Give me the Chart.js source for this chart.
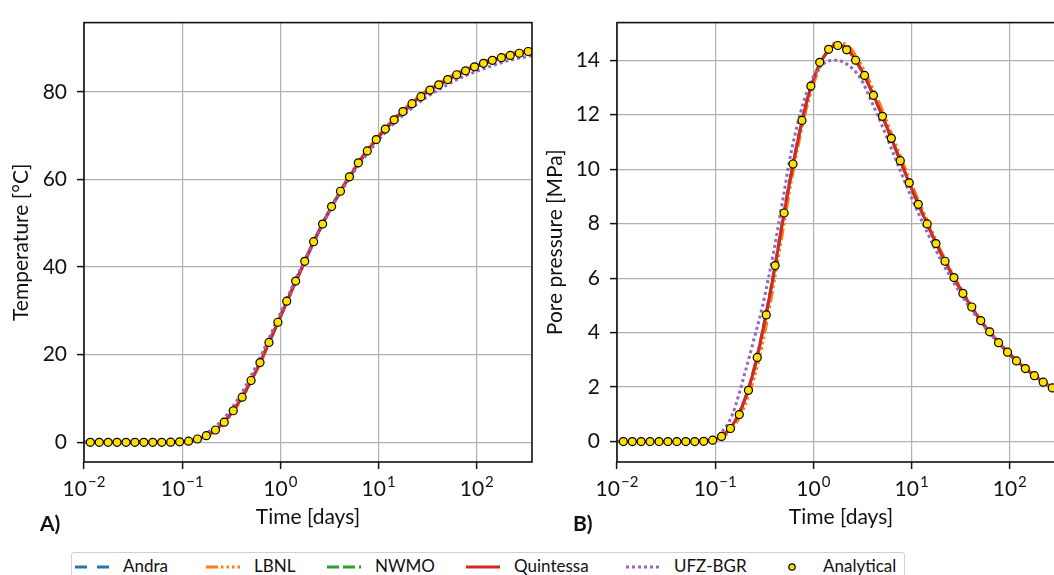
<!DOCTYPE html>
<html>
<head>
<meta charset="utf-8">
<title>Temperature and pore pressure</title>
<script src="https://cdn.jsdelivr.net/npm/chart.js@4.4.0/dist/chart.umd.min.js"></script>
<style>
    html, body { margin: 0; padding: 0; background: #fff; overflow: hidden; }
    body { position: relative; width: 1054px; height: 575px; font-family: Lato, sans-serif; color: #111; }
    canvas { position: absolute; top: 0; }
    #tempChart { left: 0; }
    #presChart { left: 540px; }
    #legend { position: absolute; left: 71px; top: 552px; width: 832px; height: 40px;
              border: 1px solid #d0d0d0; border-radius: 3px; }
    .lg-handle { position: absolute; top: 561px; }
    .lg-text { position: absolute; top: 557px; font-size: 17px; line-height: 17px; white-space: nowrap; }
</style>
</head>
<body>
<canvas id="tempChart" width="540" height="540"></canvas>
<canvas id="presChart" width="540" height="540"></canvas>
<div id="legend"></div>

<script>
// ---------------- data ----------------
const timeTicks = [0.01, 0.1, 1, 10, 100];
const tempTicks = [0, 20, 40, 60, 80];
const presTicks = [0, 2, 4, 6, 8, 10, 12, 14];

// analytical solution (days)
const analyticalTime = [0.0116, 0.0143, 0.0176, 0.0217, 0.0268, 0.0330, 0.0407, 0.0502, 0.0619, 0.0763,
    0.0941, 0.116, 0.143, 0.176, 0.218, 0.268, 0.331, 0.408, 0.503, 0.620,
    0.765, 0.943, 1.16, 1.43, 1.77, 2.18, 2.69, 3.32, 4.09, 5.05,
    6.22, 7.67, 9.46, 11.7, 14.4, 17.7, 21.9, 27.0, 33.3, 41.0,
    50.6, 62.4, 76.9, 94.9, 117, 144, 178, 219, 271, 334];
const analyticalTemp = [0, 0, 0, 0, 0, 0, 0, 0, 0, 0.02,
    0.1, 0.25, 0.75, 1.5, 2.8, 4.6, 7.2, 10.3, 14.1, 18.2,
    22.8, 27.4, 32.2, 36.8, 41.3, 45.8, 49.8, 53.8, 57.3, 60.6,
    63.8, 66.5, 69.1, 71.5, 73.6, 75.5, 77.3, 78.9, 80.4, 81.6,
    82.8, 83.9, 84.8, 85.7, 86.5, 87.2, 87.8, 88.3, 88.8, 89.2];
const analyticalPres = [0, 0, 0, 0, 0, 0, 0, 0, 0, 0.01,
    0.05, 0.19, 0.48, 0.99, 1.88, 3.09, 4.65, 6.46, 8.39, 10.19,
    11.79, 13.05, 13.92, 14.40, 14.54, 14.38, 14.00, 13.44, 12.71, 11.94,
    11.13, 10.31, 9.50, 8.71, 7.99, 7.27, 6.62, 6.02, 5.44, 4.94,
    4.44, 4.03, 3.63, 3.28, 2.96, 2.68, 2.42, 2.18, 1.97, 1.78];

// numerical results (days)
const modelTime = [0.01, 0.02, 0.05, 0.08, 0.1, 0.12, 0.15, 0.2, 0.25, 0.3, 0.4, 0.5, 0.6, 0.8, 1, 1.3, 1.7,
    2.2, 3, 4, 5, 7, 10, 15, 20, 30, 50, 70, 100, 150, 200, 300, 365];

const andraTemp = [0, 0, 0, 0.03, 0.12, 0.3, 0.8, 2.2, 3.9, 5.9, 9.9, 13.9, 17.4, 23.7, 28.6, 34.5, 40.3,
    45.8, 51.8, 56.8, 60.3, 65.2, 69.6, 73.9, 76.4, 79.6, 82.6, 84.3, 85.8, 87.2, 88.0, 88.9, 89.3];
const lbnlTemp = [0, 0, 0, 0.02, 0.1, 0.25, 0.75, 2.0, 3.7, 5.7, 9.7, 13.7, 17.2, 23.5, 28.5, 34.5, 40.4,
    46.0, 52.0, 57.1, 60.7, 65.6, 70.0, 74.4, 76.9, 80.1, 83.1, 84.8, 86.3, 87.7, 88.5, 89.4, 89.8];
const nwmoTemp = [0, 0, 0, 0.03, 0.13, 0.31, 0.86, 2.3, 4.0, 6.0, 10.1, 14.1, 17.6, 23.9, 28.8, 34.7, 40.5,
    46.0, 52.0, 57.0, 60.5, 65.4, 69.8, 74.1, 76.6, 79.8, 82.8, 84.5, 86.0, 87.4, 88.2, 89.1, 89.5];
const quintessaTemp = [0, 0, 0, 0.03, 0.13, 0.3, 0.85, 2.3, 4.0, 6.0, 10.0, 14.0, 17.5, 23.8, 28.7, 34.6, 40.4,
    45.9, 51.9, 56.9, 60.4, 65.3, 69.7, 74.0, 76.5, 79.7, 82.7, 84.4, 85.9, 87.3, 88.1, 89.0, 89.4];
const ufzTemp = [0, 0, 0, 0.05, 0.2, 0.45, 1.2, 2.9, 4.8, 6.9, 11.1, 15.1, 18.6, 24.7, 29.5, 35.2, 40.8,
    46.2, 51.9, 56.6, 60.1, 64.7, 69.0, 73.2, 75.6, 78.6, 81.6, 83.3, 84.7, 86.1, 87.0, 87.9, 88.3];

const andraPres = [0, 0, 0, 0.02, 0.08, 0.22, 0.56, 1.5, 2.64, 3.9, 6.25, 8.3, 9.88, 12.03, 13.28, 14.16, 14.55,
    14.42, 13.72, 12.8, 11.99, 10.68, 9.3, 7.86, 6.9, 5.72, 4.46, 3.8, 3.2, 2.63, 2.29, 1.87, 1.70];
const lbnlPres = [0, 0, 0, 0.01, 0.06, 0.18, 0.48, 1.3, 2.35, 3.5, 5.9, 7.95, 9.6, 11.85, 13.1, 14.15, 14.64,
    14.56, 13.9, 13.0, 12.2, 10.85, 9.45, 7.98, 6.98, 5.78, 4.5, 3.83, 3.22, 2.64, 2.29, 1.88, 1.71];
const nwmoPres = [0, 0, 0, 0.02, 0.09, 0.24, 0.6, 1.56, 2.72, 3.97, 6.32, 8.37, 9.94, 12.08, 13.31, 14.18, 14.56,
    14.41, 13.7, 12.78, 11.97, 10.66, 9.28, 7.84, 6.89, 5.71, 4.45, 3.8, 3.19, 2.62, 2.28, 1.86, 1.69];
const quintessaPres = [0, 0, 0, 0.02, 0.09, 0.24, 0.6, 1.53, 2.68, 3.93, 6.28, 8.33, 9.9, 12.05, 13.29, 14.17, 14.56,
    14.42, 13.71, 12.79, 11.98, 10.67, 9.29, 7.85, 6.9, 5.72, 4.46, 3.81, 3.2, 2.63, 2.29, 1.87, 1.70];
const ufzPres = [0, 0, 0, 0.04, 0.15, 0.4, 1.0, 2.5, 3.8, 4.9, 7.1, 9.1, 10.7, 12.5, 13.4, 13.9, 14.0,
    13.85, 13.35, 12.4, 11.6, 10.3, 8.95, 7.55, 6.65, 5.55, 4.4, 3.78, 3.18, 2.62, 2.27, 1.86, 1.69];

// ---------------- styling ----------------
const INK = '#111';
const GRID = '#b0b0b0';
const MARKER = '#ffe100';
const series = [
    { name: 'Andra',     color: '#1f77b4', dash: [12, 10] },
    { name: 'LBNL',      color: '#ff7f0e', dash: [12, 3, 2.5, 3, 2.5, 3, 2.5, 3] },
    { name: 'NWMO',      color: '#2ca02c', dash: [12, 4] },
    { name: 'Quintessa', color: '#d62728', dash: [] },
    { name: 'UFZ-BGR',   color: '#9467bd', dash: [3, 3] }
];

Chart.defaults.font.family = 'Lato';
Chart.defaults.color = INK;

function lineSet(s, values, order) {
    return {
        label: s.name,
        data: modelTime.map((t, i) => ({ x: t, y: values[i] })),
        borderColor: s.color,
        borderWidth: 3,
        borderDash: s.dash,
        pointRadius: 0,
        fill: false,
        cubicInterpolationMode: 'monotone',
        order: order
    };
}

function pointSet(values) {
    return {
        label: 'Analytical',
        data: analyticalTime.map((t, i) => ({ x: t, y: values[i] })),
        showLine: false,
        pointRadius: 4,
        pointBackgroundColor: MARKER,
        pointBorderColor: '#000',
        pointBorderWidth: 1.2,
        order: 0
    };
}

// box around the plot, 10^n tick labels and the panel letter
const frameAndLabels = {
    id: 'frameAndLabels',
    afterDraw(chart, args, opts) {
        const { ctx, chartArea: a } = chart;
        const xs = chart.scales.x;
        ctx.save();
        ctx.strokeStyle = INK;
        ctx.lineWidth = 1.6;
        ctx.strokeRect(a.left, a.top, a.right - a.left, a.bottom - a.top);

        ctx.fillStyle = INK;
        ctx.textBaseline = 'alphabetic';
        ctx.textAlign = 'left';
        xs.ticks.forEach(t => {
            const px = xs.getPixelForValue(t.value);
            const e = Math.round(Math.log10(t.value));
            const sup = (e < 0 ? '\u2212' : '') + Math.abs(e);
            ctx.font = '21px Lato';
            const wb = ctx.measureText('10').width;
            ctx.font = '15px Lato';
            const ws = ctx.measureText(sup).width;
            const x0 = px - (wb + ws + 1) / 2;
            ctx.font = '21px Lato';
            ctx.fillText('10', x0, a.bottom + 34);
            ctx.font = '15px Lato';
            ctx.fillText(sup, x0 + wb + 1, a.bottom + 25);
        });

        ctx.font = 'bold 21px Lato';
        ctx.fillText(opts.letter, opts.letterX, a.bottom + 69);
        ctx.restore();
    }
};

function gridOpts() {
    return { color: GRID, lineWidth: 1.2, drawTicks: true, tickLength: 7, tickColor: INK, tickWidth: 1.5 };
}

function makeChart(id, cfg) {
    return new Chart(document.getElementById(id), {
        type: 'line',
        data: { datasets: cfg.datasets },
        plugins: [frameAndLabels],
        options: {
            responsive: false,
            animation: false,
            events: [],
            layout: { padding: cfg.padding },
            plugins: {
                legend: { display: false },
                tooltip: { enabled: false },
                frameAndLabels: { letter: cfg.letter, letterX: cfg.letterX }
            },
            scales: {
                x: {
                    type: 'logarithmic',
                    min: 0.01,
                    max: 365,
                    afterBuildTicks: s => { s.ticks = timeTicks.map(v => ({ value: v })); },
                    afterFit: s => { s.height = cfg.xHeight; },
                    ticks: { display: false },
                    grid: gridOpts(),
                    border: { display: false },
                    title: { display: true, text: 'Time [days]', font: { size: 21 }, color: INK,
                             padding: { top: 0, bottom: 10 } }
                },
                y: {
                    min: cfg.yMin,
                    max: cfg.yMax,
                    afterBuildTicks: s => { s.ticks = cfg.yTicks.map(v => ({ value: v })); },
                    afterFit: s => { s.width = cfg.yWidth; },
                    ticks: { font: { size: 21 }, color: INK, padding: 10 },
                    grid: gridOpts(),
                    border: { display: false },
                    title: { display: true, text: cfg.yTitle, font: { size: 21 }, color: INK,
                             padding: { top: cfg.yTitlePad, bottom: 0 } }
                }
            }
        }
    });
}

makeChart('tempChart', {
    datasets: [
        lineSet(series[0], andraTemp, 5),
        lineSet(series[1], lbnlTemp, 4),
        lineSet(series[2], nwmoTemp, 3),
        lineSet(series[3], quintessaTemp, 2),
        lineSet(series[4], ufzTemp, 1),
        pointSet(analyticalTemp)
    ],
    padding: { left: 0, right: 8, top: 14, bottom: 0 },
    xHeight: 78, yWidth: 84,
    yMin: -4.5, yMax: 95.8, yTicks: tempTicks,
    yTitle: 'Temperature [°C]', yTitlePad: 9,
    letter: 'A)', letterX: 40
});

makeChart('presChart', {
    datasets: [
        lineSet(series[0], andraPres, 5),
        lineSet(series[1], lbnlPres, 4),
        lineSet(series[2], nwmoPres, 3),
        lineSet(series[3], quintessaPres, 2),
        lineSet(series[4], ufzPres, 1),
        pointSet(analyticalPres)
    ],
    padding: { left: 0, right: 15, top: 14, bottom: 0 },
    xHeight: 78, yWidth: 77,
    yMin: -0.75, yMax: 15.38, yTicks: presTicks,
    yTitle: 'Pore pressure [MPa]', yTitlePad: 3,
    letter: 'B)', letterX: 33
});

// ---------------- shared legend ----------------
const legendLeft = [75, 206, 327, 466, 626, 775];
const legendItems = series.concat([{ name: 'Analytical', marker: true }]);
legendItems.forEach((s, i) => {
    const x = legendLeft[i];
    const h = s.marker
        ? `<circle cx="17" cy="6" r="3.2" fill="${MARKER}" stroke="#000" stroke-width="1.2"/>`
        : `<line x1="0" y1="6" x2="34" y2="6" stroke="${s.color}" stroke-width="3"
                 stroke-dasharray="${s.dash.length ? s.dash.join(' ') : 'none'}"/>`;
    document.body.insertAdjacentHTML('beforeend',
        `<svg class="lg-handle" style="left:${x}px" width="34" height="12">${h}</svg>` +
        `<div class="lg-text" style="left:${x + 48}px">${s.name}</div>`);
});
</script>
</body>
</html>
